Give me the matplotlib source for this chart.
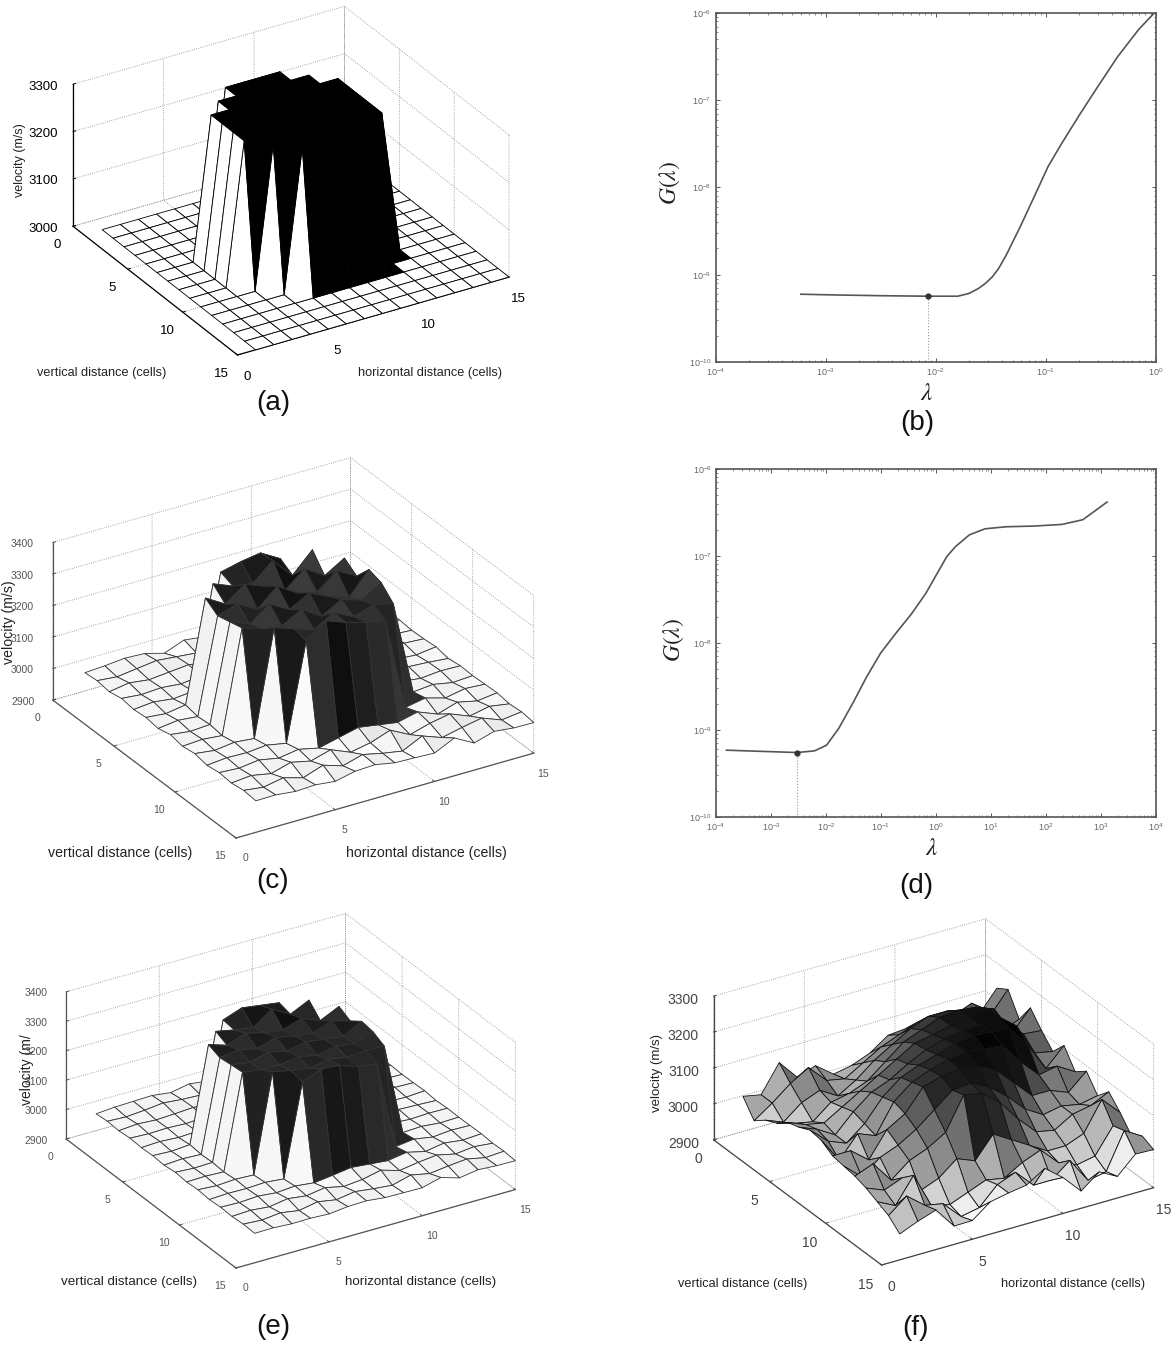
import numpy as np
import matplotlib
matplotlib.use("Agg")
import matplotlib.pyplot as plt
from mpl_toolkits.mplot3d import proj3d

plt.rcParams['font.family'] = ['Liberation Sans', 'DejaVu Sans']
plt.rcParams['mathtext.fontset'] = 'stix'
plt.rcParams['grid.linestyle'] = ':'
plt.rcParams['grid.linewidth'] = 0.6
plt.rcParams['grid.color'] = '#8a8a8a'

W, H = 1176, 1346
grid_x = list(range(1, 16))
grid_y = list(range(1, 16))

vel_a = [
 [3000]*15, [3000]*15, [3000]*15,
 [3000,3000,3000,3000,3000,3300,3300,3300,3300,3000,3000,3000,3000,3000,3000],
 [3000,3000,3000,3000,3300,3300,3300,3300,3300,3300,3000,3000,3000,3000,3000],
 [3000,3000,3000,3300,3300,3300,3300,3300,3300,3300,3300,3000,3000,3000,3000],
 [3000,3000,3000,3300,3300,3300,3300,3300,3300,3300,3300,3000,3000,3000,3000],
 [3000,3000,3000,3300,3300,3300,3300,3300,3300,3300,3300,3000,3000,3000,3000],
 [3000,3000,3000,3300,3300,3300,3300,3300,3300,3300,3300,3000,3000,3000,3000],
 [3000,3000,3000,3000,3300,3300,3300,3300,3300,3300,3300,3000,3000,3000,3000],
 [3000,3000,3000,3000,3000,3300,3300,3300,3300,3300,3000,3000,3000,3000,3000],
 [3000]*15, [3000]*15, [3000]*15, [3000]*15,
]
vel_c = [
 [2998,3002,3008,3005,2988,3012,3004,2996,3002,2998,3004,2996,3002,2998,3002],
 [3002,2996,3004,3012,3006,3000,3008,3000,2998,3004,2996,3002,3006,2998,3000],
 [2996,3006,2998,3004,3010,2998,3006,3004,3000,2996,3004,3000,2996,3006,3002],
 [3004,2998,3002,2996,3004,3315,3330,3340,3304,3005,2998,3004,3000,2996,3002],
 [2998,3004,2996,3002,3325,3300,3290,3345,3280,3343,3004,2998,3006,3002,2998],
 [3002,2996,3006,3327,3290,3335,3310,3280,3330,3290,3328,3002,2996,3004,3000],
 [2996,3004,2998,3300,3320,3285,3340,3300,3285,3335,3300,3004,3000,2996,3004],
 [3006,2998,3002,3310,3285,3330,3295,3330,3300,3280,3350,3000,3006,3002,2996],
 [2998,3002,2996,3320,3300,3290,3325,3285,3320,3300,3338,3006,2998,3004,3002],
 [3004,2996,3004,2998,3332,3310,3290,3325,3295,3315,3300,3002,3008,2996,3000],
 [2996,3002,3000,3006,2994,3302,3347,3324,3306,3290,3000,3012,2994,3006,3002],
 [3002,2998,3006,2994,3004,2990,3005,3020,3010,3000,3015,2990,3010,2996,3004],
 [2998,3004,2992,3010,2996,3014,2988,3000,3022,2990,3008,3020,2995,3008,2998],
 [3004,2996,3008,2990,3012,2992,3010,2996,2985,3015,2992,3006,3018,2994,3002],
 [3000,3001,2994,2997,2990,3004,3007,2995,2993,2990,3020,2986,3005,2998,2997],
]
vel_e = [
 [2997,3002,3004,3006,2998,3010,3002,2998,3001,2999,3003,2998,3001,2999,3001],
 [3001,2998,3003,3010,3004,3001,3005,3000,2999,3002,2998,3001,3003,2999,3000],
 [2998,3003,2999,3002,3006,2999,3003,3002,3000,2998,3002,3000,2998,3003,3001],
 [3002,2999,3001,2998,3002,3315,3338,3329,3320,3003,2999,3002,3000,2998,3001],
 [2999,3002,2998,3001,3323,3310,3300,3345,3310,3340,3002,2999,3003,3001,2999],
 [3001,2998,3003,3325,3305,3328,3312,3305,3325,3300,3330,3001,2998,3002,3000],
 [2998,3002,2999,3310,3318,3305,3325,3312,3305,3328,3310,3002,3000,2998,3002],
 [3003,2999,3001,3315,3305,3322,3308,3322,3312,3305,3338,3000,3003,3001,2998],
 [2999,3001,2998,3319,3310,3308,3318,3305,3318,3310,3332,3003,2999,3002,3001],
 [3002,2998,3002,2999,3332,3318,3308,3320,3310,3315,3312,3001,3004,2998,3000],
 [2998,3001,3000,3003,2997,3309,3335,3330,3308,3300,3000,3008,2997,3003,3001],
 [3001,2999,3003,2997,3002,2995,3003,3012,3006,3000,3010,2995,3006,2998,3002],
 [2999,3002,2996,3006,2998,3008,2994,3000,3014,2995,3005,3012,2998,3005,2999],
 [3002,2998,3005,2995,3007,2996,3006,2998,2992,3009,2996,3004,3010,2997,3001],
 [3000,3001,2997,2998,2995,3002,3004,2997,2996,2995,3012,2993,3003,2999,2998],
]
vel_f = [
 [3030,3020,3095,3040,3058,3020,3030,3050,3085,3090,3080,3070,3085,3070,3130],
 [2985,3020,3060,3090,3040,3030,3060,3090,3110,3130,3130,3120,3140,3090,3150],
 [3010,2990,3030,3050,3020,3050,3090,3120,3150,3170,3170,3160,3150,3070,3090],
 [3025,3010,3000,3040,3050,3070,3110,3150,3170,3190,3195,3190,3170,3090,3145],
 [3050,3030,3020,3050,3080,3110,3140,3170,3180,3190,3200,3210,3150,3110,3105],
 [3060,3040,3010,3060,3100,3120,3150,3175,3190,3200,3200,3210,3170,3080,3070],
 [3075,3030,3010,3050,3110,3150,3170,3185,3200,3210,3205,3200,3140,3060,3110],
 [3070,3000,3060,3040,3120,3160,3180,3195,3200,3195,3190,3130,3080,3090,3060],
 [3050,3050,3010,3080,3110,3170,3185,3190,3185,3160,3110,3060,3060,3040,3085],
 [3045,3000,3040,3060,3090,3130,3170,3175,3150,3110,3060,3030,3040,3030,3040],
 [3040,3060,3000,3040,3060,3090,3180,3170,3130,3070,3020,3010,3040,3050,3074],
 [3030,3010,3030,2980,3000,3040,3020,3080,3050,3020,2990,2990,3010,3090,3040],
 [3015,2990,3060,2960,2950,2970,2990,2980,3010,3030,2980,2960,2970,3040,3000],
 [3000,3040,3000,2990,2940,2950,3000,3020,2970,2970,3010,2940,2950,3050,3020],
 [2972,2993,3010,2951,2952,2990,3000,3008,3040,3000,2948,2987,2960,3008,3006],
]

log_lam_b = [-3.225,-2.9,-2.5,-2.071,-1.80,-1.70,-1.613,-1.55,-1.486,-1.43,-1.36,-1.233,-1.106,-0.98,-0.854,-0.696,-0.537,-0.348,-0.158,-0.016]
log_g_b = [-9.223,-9.232,-9.24,-9.246,-9.246,-9.215,-9.158,-9.10,-9.024,-8.93,-8.775,-8.45,-8.105,-7.76,-7.49,-7.17,-6.86,-6.50,-6.19,-6.0]
log_lam_d = [-3.81,-2.53,-2.21,-1.99,-1.77,-1.515,-1.26,-1.01,-0.755,-0.437,-0.184,0.006,0.197,0.355,0.609,0.894,1.274,1.78,2.29,2.67,2.92,3.11]
log_g_d = [-9.232,-9.259,-9.24,-9.175,-8.983,-8.695,-8.388,-8.119,-7.908,-7.658,-7.428,-7.217,-7.006,-6.891,-6.756,-6.687,-6.664,-6.656,-6.637,-6.583,-6.468,-6.38]
best_b = (-2.071, -9.246)
best_d = (-2.53, -9.259)

xy_ticks = [0, 5, 10, 15]
z_ticks_a = [3000, 3100, 3200, 3300]
z_ticks_c = [2900, 3000, 3100, 3200, 3300, 3400]
z_ticks_f = [2900, 3000, 3100, 3200, 3300]


def fx(x): return x / W
def fy(y): return 1 - y / H

fig = plt.figure(figsize=(W / 100, H / 100), dpi=100)
fig.patch.set_facecolor('white')


def project(ax, x, y, z):
    xs, ys, _ = proj3d.proj_transform(x, y, z, ax.get_proj())
    return ax.transData.transform((xs, ys))


def surface(values, zlim, zticks, vmin, vmax, view, aspect, origin, x15,
            tick_fs, edge, tick_col, pads):
    ax = fig.add_axes([0.1, 0.1, 0.4, 0.4 * W / H], projection='3d', proj_type='ortho')
    ax.patch.set_alpha(0)
    ax.view_init(elev=view[0], azim=view[1])
    ax.set_box_aspect(aspect)
    ax.set_xlim(0, 15, view_margin=0)
    ax.set_ylim(15, 0, view_margin=0)
    ax.set_zlim(zlim[0], zlim[1], view_margin=0)
    X, Y = np.meshgrid(grid_x, grid_y)
    Z = np.array(values, dtype=float)
    shade = 1 - np.clip((Z - vmin) / (vmax - vmin), 0, 1)
    colors = plt.cm.gray(shade)
    ax.plot_surface(X, Y, Z, facecolors=colors, rstride=1, cstride=1, shade=False,
                    edgecolor=edge, linewidth=0.6, antialiased=True)
    ax.set_xticks(xy_ticks)
    ax.set_yticks(xy_ticks)
    ax.set_zticks(zticks)
    for axis, pad in zip((ax.xaxis, ax.yaxis, ax.zaxis), pads):
        axis.set_pane_color((1, 1, 1, 0))
        axis.pane.set_edgecolor((1, 1, 1, 0))
        axis.line.set_color(tick_col)
        axis.line.set_linewidth(0.9)
        axis._axinfo['tick']['inward_factor'] = 0.0
        axis._axinfo['tick']['outward_factor'] = 0.12
        axis._axinfo['tick']['linewidth'] = {True: 0.7, False: 0.5}
        axis.set_tick_params(labelsize=tick_fs, pad=pad, colors=tick_col)
    # scale and shift the axes box so the base corners land where the reference has them
    for _ in range(3):
        ax.apply_aspect()
        p0 = project(ax, 0, 15, zlim[0])
        p1 = project(ax, 15, 15, zlim[0])
        target = np.hypot(x15[0] - origin[0], x15[1] - origin[1])
        k = target / np.hypot(*(p1 - p0))
        pos = ax.get_position()
        ax.set_position([pos.x0, pos.y0, pos.width * k, pos.height * k])
        ax.apply_aspect()
        p0 = project(ax, 0, 15, zlim[0])
        pos = ax.get_position()
        ax.set_position([pos.x0 + (origin[0] - p0[0]) / W,
                         pos.y0 + ((H - origin[1]) - p0[1]) / H, pos.width, pos.height])
    return ax


def curve(rect, lx, ly, best, xlim):
    l, t, r, b = rect
    ax = fig.add_axes([fx(l), fy(b), (r - l) / W, (b - t) / H])
    col = '#555555'
    ax.set_xscale('log')
    ax.set_yscale('log')
    ax.set_xlim(*xlim)
    ax.set_ylim(1e-10, 1e-6)
    ax.plot(10.0 ** np.array(lx), 10.0 ** np.array(ly), color='#555555', lw=1.2)
    ax.plot([10.0 ** best[0]] * 2, [1e-10, 10.0 ** best[1]], color='#999999', lw=0.8, ls=':')
    ax.plot([10.0 ** best[0]], [10.0 ** best[1]], 'o', color='#333333', ms=3.5)
    for s in ax.spines.values():
        s.set_color(col)
        s.set_linewidth(1.2)
    ax.tick_params(which='major', direction='in', top=True, right=True, length=3,
                   width=0.7, color=col, labelsize=6.5, labelcolor='#666666', pad=3)
    ax.tick_params(which='minor', direction='in', top=True, right=True, length=1.5,
                   width=0.5, color=col)
    ax.xaxis.set_major_locator(matplotlib.ticker.LogLocator(numticks=12))
    ax.xaxis.set_minor_locator(matplotlib.ticker.LogLocator(subs=range(2, 10), numticks=12))
    ax.xaxis.set_minor_formatter(matplotlib.ticker.NullFormatter())
    ax.yaxis.set_minor_formatter(matplotlib.ticker.NullFormatter())
    return ax


def label(x, y, s, fs, rot=0, **kw):
    fig.text(fx(x), fy(y), s, fontsize=fs, rotation=rot, ha='center', va='center',
             color=kw.pop('color', '#222222'), **kw)


surface(vel_a, (3000, 3300), z_ticks_a, 3000, 3300, (28.3, -121.2), (316.8, 316.8, 161),
        (237.5, 355), (509, 277), 9.5, 'black', 'black', (2, 2, 4))
surface(vel_c, (2900, 3400), z_ticks_c, 2985, 3370, (27.6, -121.6), (350, 350, 178),
        (236, 838), (534, 754), 7.5, '#333333', '#555555', (2, 2, 4))
surface(vel_e, (2900, 3400), z_ticks_c, 2985, 3370, (27.5, -121.3), (329, 329, 167),
        (236, 1268), (516, 1192), 7.5, '#333333', '#555555', (2, 2, 4))
surface(vel_f, (2900, 3300), z_ticks_f, 2930, 3215, (27.4, -121.7), (320, 320, 162),
        (881.6, 1265), (1154, 1189), 10, '#111111', '#444444', (2, 2, 4))

curve((715.5, 13, 1156, 362), log_lam_b, log_g_b, best_b, (1e-4, 1e0))
curve((716, 469, 1156, 817), log_lam_d, log_g_d, best_d, (1e-4, 1e4))

label(19.6, 160, 'velocity (m/s)', 9, 90)
label(102, 373, 'vertical distance (cells)', 9.2)
label(430, 373, 'horizontal distance (cells)', 9.2)
label(9, 622, 'velocity (m/s)', 10.2, 90)
label(120, 853, 'vertical distance (cells)', 10.2)
label(426, 853, 'horizontal distance (cells)', 10.2)
label(27, 1070, 'velocity (m/', 10, 90)
label(129, 1282, 'vertical distance (cells)', 9.6)
label(421, 1282, 'horizontal distance (cells)', 9.6)
label(657, 1073, 'velocity (m/s)', 9.5, 90)
label(742.5, 1284, 'vertical distance (cells)', 9.2)
label(1073.5, 1284, 'horizontal distance (cells)', 9.2)

label(670, 183, r'$G(\lambda)$', 17, 90)
label(927, 393, r'$\lambda$', 18)
label(673.5, 640, r'$G(\lambda)$', 17, 90)
label(932, 848, r'$\lambda$', 18)

for (x, y, s) in [(273, 403, '(a)'), (917, 423, '(b)'), (273, 881, '(c)'),
                  (916, 886, '(d)'), (273, 1327, '(e)'), (916, 1328, '(f)')]:
    label(x, y, s, 20, color='#111111')

fig.savefig('out.png', dpi=100, facecolor='white')
